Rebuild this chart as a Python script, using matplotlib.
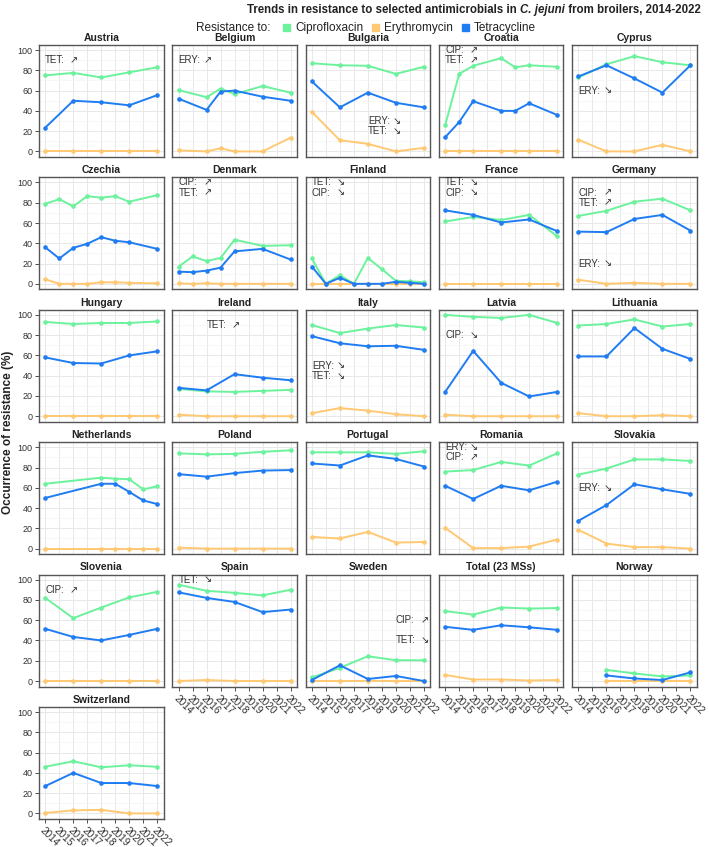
import matplotlib
matplotlib.use('Agg')
import matplotlib.pyplot as plt
from matplotlib.patches import Rectangle

# ---------------- data ----------------
countries = ["Austria", "Belgium", "Bulgaria", "Croatia", "Cyprus",
             "Czechia", "Denmark", "Finland", "France", "Germany",
             "Hungary", "Ireland", "Italy", "Latvia", "Lithuania",
             "Netherlands", "Poland", "Portugal", "Romania", "Slovakia",
             "Slovenia", "Spain", "Sweden", "Total (23 MSs)", "Norway",
             "Switzerland"]

EVEN = [2014, 2016, 2018, 2020, 2022]
years = {
    "Austria": EVEN,
    "Belgium": [2014, 2016, 2017, 2018, 2020, 2022],
    "Bulgaria": EVEN,
    "Croatia": [2014, 2015, 2016, 2018, 2019, 2020, 2022],
    "Cyprus": EVEN,
    "Czechia": [2014, 2015, 2016, 2017, 2018, 2019, 2020, 2022],
    "Denmark": [2014, 2015, 2016, 2017, 2018, 2020, 2022],
    "Finland": [2014, 2015, 2016, 2017, 2018, 2019, 2020, 2021, 2022],
    "France": EVEN,
    "Germany": EVEN,
    "Hungary": EVEN,
    "Ireland": EVEN,
    "Italy": EVEN,
    "Latvia": EVEN,
    "Lithuania": EVEN,
    "Netherlands": [2014, 2018, 2019, 2020, 2021, 2022],
    "Poland": EVEN,
    "Portugal": EVEN,
    "Romania": EVEN,
    "Slovakia": EVEN,
    "Slovenia": EVEN,
    "Spain": EVEN,
    "Sweden": EVEN,
    "Total (23 MSs)": EVEN,
    "Norway": [2016, 2018, 2020, 2022],
    "Switzerland": EVEN,
}

ciprofloxacin = {
    "Austria": [75, 77.5, 73, 78, 83],
    "Belgium": [60.5, 53.5, 62, 56.5, 64.5, 58],
    "Bulgaria": [87, 85, 84.5, 76.5, 83.5],
    "Croatia": [26, 76.5, 84.5, 92, 83, 85, 83.5],
    "Cyprus": [73, 86, 94, 88, 85],
    "Czechia": [79, 83.5, 76.5, 86.5, 85, 86.5, 81, 87.5],
    "Denmark": [17, 27, 22.5, 25.5, 43.5, 37.5, 38],
    "Finland": [25, 0, 8.5, 0, 25.5, 14.5, 3, 2.5, 1.5],
    "France": [61.5, 66, 63, 68, 47],
    "Germany": [67, 72, 81, 84, 72.5],
    "Hungary": [93, 91, 92, 92, 93.5],
    "Ireland": [27, 24.5, 24, 25, 26],
    "Italy": [90, 82, 86.5, 90, 87.5],
    "Latvia": [100, 98, 97, 100, 92],
    "Lithuania": [89.5, 91, 95.5, 88.5, 91],
    "Netherlands": [64, 70, 69, 68.5, 58.5, 61.5],
    "Poland": [94, 93, 93.5, 95.5, 97],
    "Portugal": [95, 95, 95, 93.5, 96],
    "Romania": [76, 77.5, 85.5, 82, 94],
    "Slovakia": [73, 79, 88, 88, 86.5],
    "Slovenia": [82, 62, 72.5, 82.5, 88],
    "Spain": [95, 89, 87, 84.5, 90],
    "Sweden": [3.5, 13, 24.5, 20.5, 20.5],
    "Total (23 MSs)": [69, 65.5, 72.5, 71.5, 72],
    "Norway": [11, 7.5, 4.5, 5.5],
    "Switzerland": [46, 51.5, 45.5, 47.5, 46],
}

erythromycin = {
    "Austria": [0, 0, 0, 0, 0],
    "Belgium": [1, 0, 3, 0, 0, 13.5],
    "Bulgaria": [39, 11, 7.5, 0, 3.5],
    "Croatia": [0, 0, 0, 0, 0, 0, 0],
    "Cyprus": [11.5, 0, 0, 6.5, 0],
    "Czechia": [4.5, 0, 0, 0, 1.5, 1.5, 1, 0.5],
    "Denmark": [0.5, 0, 0.5, 0, 0, 0, 0],
    "Finland": [0, 0, 0, 0, 0, 0, 0, 0, 0],
    "France": [0, 0, 0, 0, 0],
    "Germany": [4, 0, 1, 0, 0],
    "Hungary": [0, 0, 0, 0, 0],
    "Ireland": [1.5, 0, 0, 0, 0],
    "Italy": [3, 8, 5.5, 2, 0],
    "Latvia": [1.5, 0, 0, 0, 0],
    "Lithuania": [3, 0, 0, 1, 0],
    "Netherlands": [0, 0, 0, 0, 0, 0],
    "Poland": [1, 0, 0, 0, 0],
    "Portugal": [11.5, 10, 16.5, 6, 6.5],
    "Romania": [20.5, 0.5, 0.5, 2, 9],
    "Slovakia": [18.5, 5, 1.5, 1.5, 0],
    "Slovenia": [0, 0, 0, 0, 0],
    "Spain": [0, 1, 0, 0, 0],
    "Sweden": [0, 0, 0, 0, 0],
    "Total (23 MSs)": [6, 1.5, 1.5, 0.5, 1],
    "Norway": [0, 0, 0, 0],
    "Switzerland": [0.5, 3, 3.5, 0, 0],
}

tetracycline = {
    "Austria": [23.5, 50, 48.5, 45.5, 55.5],
    "Belgium": [52, 41, 59, 60, 54, 50],
    "Bulgaria": [69, 43.5, 58, 48, 43.5],
    "Croatia": [14, 29, 49.5, 40, 40, 47.5, 36],
    "Cyprus": [74, 85, 72, 58, 85],
    "Czechia": [36, 25, 35.5, 39.5, 46, 42.5, 41, 34.5],
    "Denmark": [12, 11.5, 13, 16, 32, 34.5, 24],
    "Finland": [17, 0, 6, 0, 0, 0, 2, 1, 0],
    "France": [72.5, 68, 60.5, 63.5, 52],
    "Germany": [51.5, 51, 64, 68, 52.5],
    "Hungary": [58, 52.5, 52, 60, 64],
    "Ireland": [28, 25.5, 41.5, 38, 35.5],
    "Italy": [79, 72, 69, 69.5, 65.5],
    "Latvia": [24, 64.5, 33, 19.5, 24],
    "Lithuania": [59, 59, 87, 66.5, 56.5],
    "Netherlands": [50, 64, 64, 56, 47.5, 44],
    "Poland": [73.5, 71, 74.5, 77, 77.5],
    "Portugal": [84, 82, 92, 88.5, 81],
    "Romania": [62, 49, 62, 57.5, 66],
    "Slovakia": [27.5, 43, 63.5, 58.5, 54],
    "Slovenia": [51.5, 43.5, 40, 45.5, 51.5],
    "Spain": [87.5, 82, 78, 68, 70.5],
    "Sweden": [1, 15.5, 2, 5, 0],
    "Total (23 MSs)": [53.5, 50.5, 55, 53, 50.5],
    "Norway": [5.5, 2.5, 1, 8.5],
    "Switzerland": [27, 40, 30, 30, 27],
}

# trend annotations: (country, label, arrow, x, y)
trend_labels = [
    ("Austria", "TET:", "\u2197", 2014, 90),
    ("Belgium", "ERY:", "\u2197", 2014, 90),
    ("Bulgaria", "ERY:", "\u2198", 2018, 30),
    ("Bulgaria", "TET:", "\u2198", 2018, 20),
    ("Croatia", "CIP:", "\u2197", 2014, 100),
    ("Croatia", "TET:", "\u2197", 2014, 90),
    ("Cyprus", "ERY:", "\u2198", 2014, 60),
    ("Denmark", "CIP:", "\u2197", 2014, 100),
    ("Denmark", "TET:", "\u2197", 2014, 90),
    ("Finland", "TET:", "\u2198", 2014, 100),
    ("Finland", "CIP:", "\u2198", 2014, 90),
    ("France", "TET:", "\u2198", 2014, 100),
    ("France", "CIP:", "\u2198", 2014, 90),
    ("Germany", "CIP:", "\u2197", 2014, 90),
    ("Germany", "TET:", "\u2197", 2014, 80),
    ("Germany", "ERY:", "\u2198", 2014, 20),
    ("Ireland", "TET:", "\u2197", 2016, 90),
    ("Italy", "ERY:", "\u2198", 2014, 50),
    ("Italy", "TET:", "\u2198", 2014, 40),
    ("Latvia", "CIP:", "\u2198", 2014, 80),
    ("Romania", "ERY:", "\u2198", 2014, 100),
    ("Romania", "CIP:", "\u2197", 2014, 90),
    ("Slovakia", "ERY:", "\u2198", 2014, 60),
    ("Slovenia", "CIP:", "\u2197", 2014, 90),
    ("Spain", "TET:", "\u2198", 2014, 100),
    ("Sweden", "CIP:", "\u2197", 2020, 60),
    ("Sweden", "TET:", "\u2198", 2020, 40),
]

year_ticks = list(range(2014, 2023))
y_ticks = [0, 20, 40, 60, 80, 100]
series_names = ["Ciprofloxacin", "Erythromycin", "Tetracycline"]
series_colors = ["#6CF29C", "#FFC873", "#1F7CF2"]

# ---------------- layout ----------------
W, H = 709, 847
fig = plt.figure(figsize=(W / 100, H / 100), dpi=100)
NARROW = ["Liberation Sans Narrow", "Liberation Sans", "DejaVu Sans"]
REG = ["Liberation Sans", "DejaVu Sans"]
TXT = "#222222"

def rect(r, c):
    left = 39 + c * 133.3
    top = 45 + r * 132.4
    w, h = 124.5, 112
    return [left / W, 1 - (top + h) / H, w / W, h / H]

bottom_panels = {"Switzerland", "Spain", "Sweden", "Total (23 MSs)", "Norway"}

for i, name in enumerate(countries):
    r, c = divmod(i, 5)
    ax = fig.add_axes(rect(r, c))
    ax.set_xlim(2013.55, 2022.45)
    ax.set_ylim(-5.5, 105)
    ax.set_xticks(year_ticks)
    ax.set_yticks(y_ticks)
    ax.set_yticks([10, 30, 50, 70, 90], minor=True)
    ax.grid(True, which="major", color="#e8e8e8", lw=0.7)
    ax.grid(True, which="minor", axis="y", color="#f4f4f4", lw=0.5)
    ax.set_axisbelow(True)
    for sp in ax.spines.values():
        sp.set_color("#555555")
        sp.set_linewidth(1.0)
    ax.tick_params(which="minor", length=0)
    ax.tick_params(which="major", length=3, width=0.6, color="#333333",
                   labelsize=6.5, labelcolor="#333333", pad=1.5)
    yrs = years[name]
    for vals, col in zip([ciprofloxacin[name], erythromycin[name], tetracycline[name]],
                         series_colors):
        ax.plot(yrs, vals, color=col, lw=1.4, marker="o", ms=3.3,
                markeredgewidth=0, solid_capstyle="round", zorder=3)
    if c != 0:
        ax.tick_params(axis="y", left=False, labelleft=False)
    else:
        for lab in ax.get_yticklabels():
            lab.set_family(REG)
    if name in bottom_panels:
        ax.set_xticklabels([str(y) for y in year_ticks], rotation=-45,
                           ha="left", va="top", rotation_mode="anchor",
                           family=REG, fontsize=7.3)
    else:
        ax.tick_params(axis="x", bottom=False, labelbottom=False)
    ax.set_title(name, fontsize=7.5, fontweight="bold", family=NARROW,
                 color=TXT, pad=3)
    for (cn, lab, arr, x, y) in trend_labels:
        if cn == name:
            ax.text(x, y, lab, ha="left", va="center", fontsize=7,
                    family=REG, color="#333333", zorder=5)
            ax.text(x + 2.05, y, arr, ha="center", va="center", fontsize=7,
                    family=["DejaVu Sans"], color="#333333", zorder=5)

# y label
fig.text(8 / W, 1 - 432 / H, "Occurrence of resistance (%)", rotation=90,
         ha="center", va="center", fontsize=8.5, fontweight="bold",
         family=NARROW, color=TXT)

# title, composed of pieces (italic species name), fitted to 247..701 px
renderer = fig.canvas.get_renderer()
pieces = [("Trends in resistance to selected antimicrobials in ", "normal"),
          ("C. jejuni", "italic"),
          (" from broilers, 2014-2022", "normal")]
tobjs = []
for s, st in pieces:
    t = fig.text(0, 1 - 10 / H, s, ha="left", va="center", fontsize=10,
                 fontweight="bold", fontstyle=st, family=NARROW, color=TXT)
    tobjs.append(t)
total = sum(t.get_window_extent(renderer).width for t in tobjs)
size = 10 * (701 - 247) / total
for t in tobjs:
    t.set_fontsize(size)
widths = [t.get_window_extent(renderer).width for t in tobjs]
x = 701 - sum(widths)
for t, wdt in zip(tobjs, widths):
    t.set_x(x / W)
    x += wdt

# legend
ly = 1 - 28 / H
fig.text(270 / W, ly, "Resistance to:", ha="right", va="center", fontsize=8.5,
         family=NARROW, color=TXT)
lx = 283
for nm, col in zip(series_names, series_colors):
    fig.patches.append(Rectangle((lx / W, ly - 3.5 / H), 7 / W, 7 / H,
                                 transform=fig.transFigure, color=col,
                                 figure=fig))
    t = fig.text((lx + 12) / W, ly, nm, ha="left", va="center", fontsize=8.5,
                 family=NARROW, color=TXT)
    wdt = t.get_window_extent(renderer).width
    lx = lx + 12 + wdt + 9

fig.savefig("out.png", dpi=100)
